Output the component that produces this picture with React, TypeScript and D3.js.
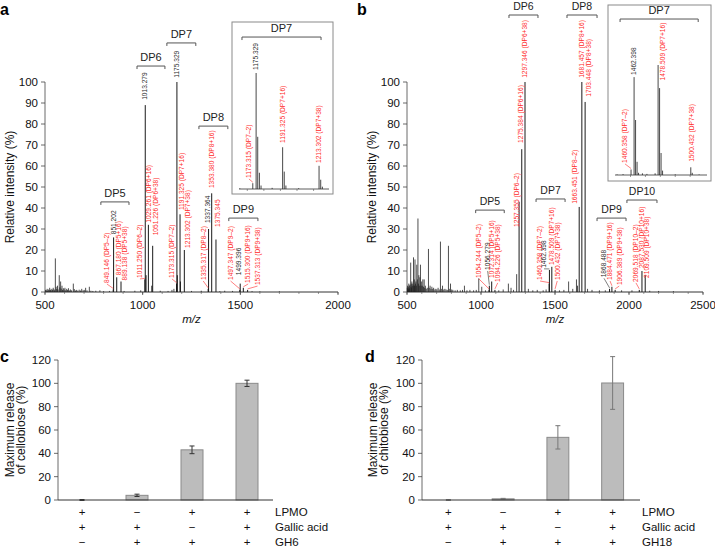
import React from "react";
import * as d3 from "d3";

const FONT = '"Liberation Sans", Arial, Helvetica, sans-serif';
const RED = "#ff2a2a";
const INK = "#2a2a2a";

type Lab = { mz: number; lx: number; lv: number; text: string; red: boolean; lead?: boolean };
type Grp = { name: string; from: number; to: number; level: number };

// ---------------- shared ----------------
const specYTicks = [0, 10, 20, 30, 40, 50, 60, 70, 80, 90, 100];

// ---------------- panel a ----------------
const aTicks = [500, 1000, 1500, 2000];
const aNoise: [number, number][] = [
  [503, 1], [507, 0.8], [511, 1.5], [514, 0.6], [517, 1.2], [521, 0.9], [524, 2], [528, 1.1], [531, 0.7],
  [535, 1.5], [538, 1], [542, 2], [546, 1.3], [549, 0.8], [553, 16], [557, 2.5], [560, 1.4], [564, 3],
  [567, 1.2], [573, 8], [576, 2.2], [580, 5], [583, 1.6], [587, 3], [590, 1], [594, 1.8], [598, 1.2],
  [602, 2], [606, 0.8], [611, 1.5], [615, 1], [620, 1.8], [625, 0.7], [630, 1.2], [636, 0.8], [645, 4],
  [650, 1.4], [656, 0.7], [662, 1], [668, 0.6], [675, 1.1], [682, 0.7], [688, 1.5], [695, 0.8], [701, 1],
  [708, 2], [715, 0.8], [727, 2.5], [735, 0.6], [745, 0.5], [760, 0.6], [781, 0.8], [800, 0.4], [830, 0.5],
  [905, 0.5], [960, 0.6], [990, 0.8], [1090, 0.6], [1130, 0.5], [1150, 1], [1160, 1.5], [1250, 0.5],
  [1300, 0.6], [1395, 0.4], [1420, 0.6], [1460, 0.5], [1560, 0.4], [1600, 0.3], [1700, 0.3],
];
const aPeaks: [number, number][] = [
  [849.146, 1.2], [851.202, 26], [867.18, 7], [889.138, 5], [1011.25, 6], [1013.279, 89], [1017.3, 8],
  [1029.261, 32], [1047, 3], [1051.226, 22], [1173.315, 4], [1175.329, 100], [1177.3, 8], [1191.325, 37],
  [1193.3, 5], [1213.302, 20], [1335.317, 1.5], [1337.364, 30], [1353.38, 47], [1375.345, 25],
  [1497.347, 1], [1499.396, 4], [1515.3, 2], [1537.313, 1],
];
const aLabels: Lab[] = [
  { mz: 849.146, lx: 817, lv: 4.3, text: "849.146 (DP5–2)", red: true, lead: true },
  { mz: 851.202, lx: 851, lv: 27.5, text: "851.202", red: false },
  { mz: 867.18, lx: 879, lv: 8, text: "867.180 (DP5+16)", red: true },
  { mz: 889.138, lx: 909, lv: 5.5, text: "889.138 (DP5+38)", red: true },
  { mz: 1011.25, lx: 986, lv: 6.7, text: "1011.250 (DP6–2)", red: true, lead: true },
  { mz: 1013.279, lx: 1011.5, lv: 91.5, text: "1013.279", red: false },
  { mz: 1029.261, lx: 1032, lv: 33, text: "1029.261 (DP6+16)", red: true },
  { mz: 1051.226, lx: 1068, lv: 27, text: "1051.226 (DP6+38)", red: true },
  { mz: 1173.315, lx: 1150, lv: 6.7, text: "1173.315 (DP7–2)", red: true, lead: true },
  { mz: 1175.329, lx: 1175, lv: 102, text: "1175.329", red: false },
  { mz: 1191.325, lx: 1199, lv: 39, text: "1191.325 (DP7+16)", red: true },
  { mz: 1213.302, lx: 1231, lv: 21, text: "1213.302 (DP7+38)", red: true },
  { mz: 1335.317, lx: 1310, lv: 5.7, text: "1335.317 (DP8–2)", red: true, lead: true },
  { mz: 1337.364, lx: 1335, lv: 32.8, text: "1337.364", red: false },
  { mz: 1353.38, lx: 1353, lv: 49.5, text: "1353.380 (DP8+16)", red: true },
  { mz: 1375.345, lx: 1383, lv: 31, text: "1375.345", red: true },
  { mz: 1497.347, lx: 1450, lv: 5.7, text: "1497.347 (DP9–2)", red: true, lead: true },
  { mz: 1499.396, lx: 1492, lv: 8, text: "1499.396", red: false },
  { mz: 1515.3, lx: 1540, lv: 4.3, text: "1515.300 (DP9+16)", red: true, lead: true },
  { mz: 1537.313, lx: 1588, lv: 3.3, text: "1537.313 (DP9+38)", red: true, lead: true },
];
const aGroups: Grp[] = [
  { name: "DP5", from: 786, to: 930, level: 42.9 },
  { name: "DP6", from: 971, to: 1114, level: 107.6 },
  { name: "DP7", from: 1124, to: 1272, level: 118.6 },
  { name: "DP8", from: 1288, to: 1436, level: 79 },
  { name: "DP9", from: 1441, to: 1590, level: 35.2 },
];
const aInsetPeaks: [number, number][] = [
  [1165.5, 0.5], [1173.315, 5], [1175.329, 100], [1176.3, 45], [1177.3, 14], [1178.3, 3], [1185, 1],
  [1191.325, 36], [1192.3, 15], [1193.3, 3], [1201, 0.7], [1213.302, 20], [1214.3, 8], [1215.3, 2],
];
const aInsetLabels: Lab[] = [
  { mz: 1175.329, lx: 1175.3, lv: 102.6, text: "1175.329", red: false },
  { mz: 1173.315, lx: 1171, lv: 9.5, text: "1173.315 (DP7–2)", red: true, lead: true },
  { mz: 1191.325, lx: 1191.5, lv: 39.7, text: "1191.325 (DP7+16)", red: true },
  { mz: 1213.302, lx: 1213.25, lv: 22.4, text: "1213.302 (DP7+38)", red: true },
];
const aInsetGroup: Grp = { name: "DP7", from: 1166.8, to: 1214.5, level: 131 };
const aInsetTicks = [1170, 1180, 1190, 1200, 1210];

// ---------------- panel b ----------------
const bTicks = [500, 1000, 1500, 2000, 2500];
const bNoise: [number, number][] = [
  [502, 2], [504, 3], [506, 1.5], [508, 2.5], [510, 1.2], [512, 4], [514, 2], [516, 3], [518, 1.5],
  [520, 3.5], [525, 14], [527, 2.5], [529, 4], [531, 2], [533, 5], [536, 3], [539, 4], [544, 16.5],
  [546, 3], [549, 6], [551, 3], [554, 15.5], [557, 4], [560, 5], [563, 3], [566, 13], [570, 6],
  [574, 35], [577, 4], [580, 8], [583, 3], [587, 7], [591, 13], [595, 3], [599, 5], [603, 3], [607, 6],
  [611, 2.5], [616, 6], [620, 2], [624, 3], [630, 1.5], [637, 2], [645, 20.5], [650, 2], [656, 3],
  [662, 1.5], [668, 2.5], [674, 1.5], [680, 2], [688, 1.2], [695, 1.5], [702, 1.2], [710, 2], [718, 1.2],
  [726, 24], [732, 1.5], [740, 3], [748, 1.2], [756, 1.5], [764, 1.2], [772, 1], [780, 22], [786, 1.5],
  [794, 4], [802, 1.2], [810, 1], [825, 0.8], [840, 1], [860, 0.8], [875, 1], [888, 3], [905, 0.8],
  [925, 1], [950, 0.8], [968, 1], [985, 6.5], [1005, 2.5], [1030, 0.8], [1120, 0.8], [1150, 1.2],
  [1185, 4], [1203, 2], [1220, 1], [1241, 8.5], [1320, 1.5], [1350, 0.8], [1380, 1], [1420, 0.8],
  [1440, 1.2], [1530, 0.8], [1560, 1], [1592, 5], [1620, 1.5], [1645, 6], [1652, 3], [1720, 1.5],
  [1750, 1], [1800, 0.8], [1840, 0.8], [1950, 0.8], [2020, 0.8], [2140, 0.6], [2200, 0.5], [2300, 0.4],
];
const bPeaks: [number, number][] = [
  [1054.244, 1], [1056.279, 3], [1072.314, 5], [1094.226, 1], [1257.355, 43], [1275.384, 68],
  [1297.346, 100], [1460.358, 4], [1462.398, 10.5], [1478.509, 12], [1500.432, 1], [1663.451, 40.5],
  [1681.457, 100], [1703.448, 90.5], [1868.488, 1.5], [1884.471, 2.5], [1906.389, 1], [2069.518, 1],
  [2087.53, 10], [2109.509, 8],
];
const bLabels: Lab[] = [
  { mz: 1054.244, lx: 986, lv: 6.7, text: "1054.244 (DP5–2)", red: true, lead: true },
  { mz: 1056.279, lx: 1045, lv: 10.5, text: "1056.279", red: false, lead: true },
  { mz: 1072.314, lx: 1072, lv: 6.7, text: "1072.314 (DP5+16)", red: true },
  { mz: 1094.226, lx: 1113, lv: 4.8, text: "1094.226 (DP5+38)", red: true, lead: true },
  { mz: 1257.355, lx: 1241, lv: 31, text: "1257.355 (DP6–2)", red: true },
  { mz: 1275.384, lx: 1268, lv: 71, text: "1275.384 (DP6+16)", red: true },
  { mz: 1297.346, lx: 1297, lv: 102, text: "1297.346 (DP6+38)", red: true },
  { mz: 1460.358, lx: 1399, lv: 5.7, text: "1460.358 (DP7–2)", red: true, lead: true },
  { mz: 1462.398, lx: 1426, lv: 11.5, text: "1462.398", red: false, lead: true },
  { mz: 1478.509, lx: 1478, lv: 12.8, text: "1478.509 (DP7+16)", red: true },
  { mz: 1500.432, lx: 1515, lv: 5.7, text: "1500.432 (DP7+38)", red: true, lead: true },
  { mz: 1663.451, lx: 1635, lv: 42, text: "1663.451 (DP8–2)", red: true },
  { mz: 1681.457, lx: 1680, lv: 102, text: "1681.457 (DP8+16)", red: true },
  { mz: 1703.448, lx: 1725, lv: 93, text: "1703.448 (DP8+38)", red: true },
  { mz: 1868.488, lx: 1831, lv: 7, text: "1868.488", red: false, lead: true },
  { mz: 1884.471, lx: 1872, lv: 5.7, text: "1884.471 (DP9+16)", red: true, lead: true },
  { mz: 1906.389, lx: 1934, lv: 3.3, text: "1906.389 (DP9+38)", red: true, lead: true },
  { mz: 2069.518, lx: 2047, lv: 4.8, text: "2069.518 (DP10–2)", red: true, lead: true },
  { mz: 2087.53, lx: 2086, lv: 11.4, text: "2087.530 (DP10+16)", red: true },
  { mz: 2109.509, lx: 2120, lv: 6.7, text: "2109.509 (DP10+38)", red: true },
];
const bGroups: Grp[] = [
  { name: "DP5", from: 964, to: 1157, level: 39 },
  { name: "DP6", from: 1189, to: 1385, level: 131.9 },
  { name: "DP7", from: 1372, to: 1568, level: 44.3 },
  { name: "DP8", from: 1581, to: 1784, level: 131.9 },
  { name: "DP9", from: 1784, to: 1980, level: 35.2 },
  { name: "DP10", from: 1986, to: 2189, level: 43.8 },
];
const bInsetPeaks: [number, number][] = [
  [1451, 0.5], [1455, 0.8], [1460.358, 5], [1462.398, 89], [1463.4, 50], [1464.4, 12], [1465.4, 2],
  [1468, 1.5], [1471, 1], [1476.5, 1.5], [1478.509, 100], [1479.5, 79], [1480.5, 20], [1481.5, 4],
  [1490, 0.6], [1500.432, 7], [1501.4, 2], [1506, 0.5],
];
const bInsetLabels: Lab[] = [
  { mz: 1462.398, lx: 1462.4, lv: 91, text: "1462.398", red: false },
  { mz: 1478.509, lx: 1481.3, lv: 86, text: "1478.509 (DP7+16)", red: true },
  { mz: 1460.358, lx: 1456.3, lv: 11, text: "1460.358 (DP7–2)", red: true, lead: true },
  { mz: 1500.432, lx: 1501.2, lv: 12, text: "1500.432 (DP7+38)", red: true },
];
const bInsetGroup: Grp = { name: "DP7", from: 1453, to: 1505.4, level: 141.8 };
const bInsetTicks = [1460, 1470, 1480, 1490, 1500];

// ---------------- panels c, d ----------------
const conditions = ["1", "2", "3", "4"];
const cValues = [0, 4, 43, 100];
const cErrors = [0.4, 1, 3.3, 2.7];
const dValues = [0, 1, 53.7, 100.3];
const dErrors = [0.3, 0.4, 10, 22.6];
const cRows = ["LPMO", "Gallic acid", "GH6"];
const dRows = ["LPMO", "Gallic acid", "GH18"];
const signRows = [
  ["+", "−", "+", "+"],
  ["+", "+", "−", "+"],
  ["−", "+", "+", "+"],
];
const barYTicks = [0, 20, 40, 60, 80, 100, 120];

// ------------------------------------------------------------
function RotLabel({ x, y, text, red, size = 6.6 }: { x: number; y: number; text: string; red: boolean; size?: number }) {
  return (
    <text
      transform={`translate(${x},${y}) rotate(-90)`}
      dy="0.35em"
      fontSize={size}
      fill={red ? RED : INK}
      fontFamily={FONT}
    >
      {text}
    </text>
  );
}

function Labels({ labels, x, y, peaks }: { labels: Lab[]; x: (v: number) => number; y: (v: number) => number; peaks: [number, number][] }) {
  return (
    <g>
      {labels.map((l, i) => {
        const pk = peaks.find((p) => p[0] === l.mz);
        const top = pk ? y(pk[1]) : y(0);
        return (
          <g key={i}>
            {l.lead && (
              <line
                x1={x(l.mz)}
                y1={top - 1}
                x2={x(l.lx)}
                y2={y(l.lv) + 1}
                stroke={l.red ? RED : INK}
                strokeWidth={0.6}
              />
            )}
            <RotLabel x={x(l.lx)} y={y(l.lv)} text={l.text} red={l.red} />
          </g>
        );
      })}
    </g>
  );
}

function Bracket({ g, x, y, size }: { g: Grp; x: (v: number) => number; y: (v: number) => number; size: number }) {
  const yy = y(g.level);
  const x1 = x(g.from);
  const x2 = x(g.to);
  return (
    <g>
      <path d={`M${x1},${yy + 3}V${yy}H${x2}V${yy + 3}`} fill="none" stroke="#555" strokeWidth={1} />
      <text x={(x1 + x2) / 2} y={yy - 5} textAnchor="middle" fontSize={size} fontFamily={FONT} fill="#222">
        {g.name}
      </text>
    </g>
  );
}

function Sticks({ peaks, x, y, color = "#1e1e1e", width = 0.9 }: { peaks: [number, number][]; x: (v: number) => number; y: (v: number) => number; color?: string; width?: number }) {
  return (
    <g>
      {peaks.map((p, i) => (
        <line key={i} x1={x(p[0])} x2={x(p[0])} y1={y(0)} y2={y(p[1])} stroke={color} strokeWidth={width} />
      ))}
    </g>
  );
}

type InsetSpec = {
  box: [number, number, number, number];
  xr: [number, number];
  domain: [number, number];
  yr: [number, number];
  peaks: [number, number][];
  labels: Lab[];
  group: Grp;
  ticks: number[];
};

function Inset({ s }: { s: InsetSpec }) {
  const x = d3.scaleLinear().domain(s.domain).range(s.xr);
  const y = d3.scaleLinear().domain([0, 100]).range(s.yr);
  const [bx0, by0, bx1, by1] = s.box;
  return (
    <g>
      <rect x={bx0} y={by0} width={bx1 - bx0} height={by1 - by0} fill="#fff" stroke="#8a8a8a" strokeWidth={1} />
      <line x1={s.xr[0]} x2={s.xr[1]} y1={y(0)} y2={y(0)} stroke="#333" strokeWidth={0.8} />
      {s.ticks.map((t) => (
        <line key={t} x1={x(t)} x2={x(t)} y1={y(0)} y2={y(0) + 2} stroke="#555" strokeWidth={0.6} />
      ))}
      <Sticks peaks={s.peaks} x={x} y={y} color="#333" width={0.9} />
      <Labels labels={s.labels} x={x} y={y} peaks={s.peaks} />
      <Bracket g={s.group} x={x} y={y} size={11} />
    </g>
  );
}

type SpecProps = {
  letter: string;
  letterX: number;
  x0: number;
  x1: number;
  domain: [number, number];
  ticks: number[];
  noise: [number, number][];
  peaks: [number, number][];
  labels: Lab[];
  groups: Grp[];
  groupSize: number;
  ylabelX: number;
  inset: InsetSpec;
};

function Spectrum(p: SpecProps) {
  const x = d3.scaleLinear().domain(p.domain).range([p.x0, p.x1]);
  const y = d3.scaleLinear().domain([0, 100]).range([292, 82]);
  const minor = d3.range(p.domain[0], p.domain[1] + 1, 100);
  return (
    <g fontFamily={FONT}>
      <text x={p.letterX} y={15} fontSize={16} fontWeight="bold" fill="#000">
        {p.letter}
      </text>
      {/* y axis */}
      <line x1={p.x0} x2={p.x0} y1={y(0)} y2={y(100)} stroke="#444" strokeWidth={0.8} />
      {specYTicks.map((t) => (
        <g key={t}>
          <line x1={p.x0 - 4} x2={p.x0} y1={y(t)} y2={y(t)} stroke="#444" strokeWidth={0.8} />
          <text x={p.x0 - 7} y={y(t)} dy="0.35em" textAnchor="end" fontSize={11.5} fill="#111">
            {t}
          </text>
        </g>
      ))}
      <text
        transform={`translate(${p.ylabelX},${(y(0) + y(100)) / 2}) rotate(-90)`}
        textAnchor="middle"
        dy="0.35em"
        fontSize={12}
        fill="#111"
      >
        Relative intensity (%)
      </text>
      {/* x axis */}
      <line x1={p.x0} x2={p.x1} y1={y(0)} y2={y(0)} stroke="#333" strokeWidth={1} />
      {minor.map((t) => (
        <line key={t} x1={x(t)} x2={x(t)} y1={y(0)} y2={y(0) + 2} stroke="#555" strokeWidth={0.6} />
      ))}
      {p.ticks.map((t) => (
        <g key={t}>
          <line x1={x(t)} x2={x(t)} y1={y(0)} y2={y(0) + 3} stroke="#444" strokeWidth={0.8} />
          <text x={x(t)} y={309} textAnchor="middle" fontSize={11.5} fill="#111">
            {t}
          </text>
        </g>
      ))}
      <text x={(p.x0 + p.x1) / 2} y={323} textAnchor="middle" fontSize={11.5} fontStyle="italic" fill="#111">
        m/z
      </text>
      <Sticks peaks={p.noise} x={x} y={y} color="#222" width={0.8} />
      <Sticks peaks={p.peaks} x={x} y={y} color="#1a1a1a" width={1} />
      <Labels labels={p.labels} x={x} y={y} peaks={p.peaks} />
      {p.groups.map((g) => (
        <Bracket key={g.name} g={g} x={x} y={y} size={p.groupSize} />
      ))}
      <Inset s={p.inset} />
    </g>
  );
}

type BarProps = {
  letter: string;
  letterX: number;
  x0: number;
  x1: number;
  band: [number, number];
  values: number[];
  errors: number[];
  rows: string[];
  ylines: string[];
  ylabelX: [number, number];
  errColor: string;
};

function BarPanel(p: BarProps) {
  const y = d3.scaleLinear().domain([0, 120]).range([500, 360]);
  const xb = d3.scaleBand<string>().domain(conditions).range(p.band).paddingInner(0.6).paddingOuter(0.3);
  const rowY = [515.5, 531, 545.5];
  return (
    <g fontFamily={FONT}>
      <text x={p.letterX} y={362} fontSize={16} fontWeight="bold" fill="#000">
        {p.letter}
      </text>
      {p.ylines.map((t, i) => (
        <text
          key={i}
          transform={`translate(${p.ylabelX[i]},430) rotate(-90)`}
          textAnchor="middle"
          dy="0.35em"
          fontSize={12}
          fill="#111"
        >
          {t}
        </text>
      ))}
      <line x1={p.x0} x2={p.x0} y1={y(0)} y2={y(120)} stroke="#444" strokeWidth={0.8} />
      {barYTicks.map((t) => (
        <g key={t}>
          <line x1={p.x0 - 4} x2={p.x0} y1={y(t)} y2={y(t)} stroke="#444" strokeWidth={0.8} />
          <text x={p.x0 - 7} y={y(t)} dy="0.35em" textAnchor="end" fontSize={11.5} fill="#111">
            {t}
          </text>
        </g>
      ))}
      {conditions.map((c, i) => {
        const v = p.values[i];
        const e = p.errors[i];
        const cx = (xb(c) as number) + xb.bandwidth() / 2;
        return (
          <g key={c}>
            {v > 0 && (
              <rect
                x={xb(c)}
                y={y(v)}
                width={xb.bandwidth()}
                height={y(0) - y(v)}
                fill="#bcbcbc"
                stroke="#8a8a8a"
                strokeWidth={1}
              />
            )}
            <line x1={cx} x2={cx} y1={y(v - e)} y2={y(v + e)} stroke={p.errColor} strokeWidth={1} />
            <line x1={cx - 2.5} x2={cx + 2.5} y1={y(v + e)} y2={y(v + e)} stroke={p.errColor} strokeWidth={1} />
            <line x1={cx - 2.5} x2={cx + 2.5} y1={y(v - e)} y2={y(v - e)} stroke={p.errColor} strokeWidth={1} />
            {signRows.map((r, j) => (
              <text key={j} x={cx} y={rowY[j]} textAnchor="middle" fontSize={11.5} fill="#111">
                {r[i]}
              </text>
            ))}
          </g>
        );
      })}
      <line x1={p.x0} x2={p.x1} y1={y(0)} y2={y(0)} stroke="#333" strokeWidth={1} />
      {p.rows.map((r, j) => (
        <text key={r} x={p.x1 + 2} y={rowY[j]} fontSize={11.5} fill="#111">
          {r}
        </text>
      ))}
    </g>
  );
}

export default function App() {
  return (
    <svg width={715} height={546} style={{ display: "block", position: "absolute", left: 0, top: 0, background: "#fff" }}>
      <rect width={715} height={546} fill="#fff" />
      <Spectrum
        letter="a"
        letterX={0}
        x0={45}
        x1={338}
        domain={[500, 2000]}
        ticks={aTicks}
        noise={aNoise}
        peaks={aPeaks}
        labels={aLabels}
        groups={aGroups}
        groupSize={11}
        ylabelX={10}
        inset={{
          box: [232, 22, 333, 194],
          xr: [239, 329],
          domain: [1165, 1219.3],
          yr: [189, 73],
          peaks: aInsetPeaks,
          labels: aInsetLabels,
          group: aInsetGroup,
          ticks: aInsetTicks,
        }}
      />
      <Spectrum
        letter="b"
        letterX={357}
        x0={407}
        x1={703}
        domain={[500, 2500]}
        ticks={bTicks}
        noise={bNoise}
        peaks={bPeaks}
        labels={bLabels}
        groups={bGroups}
        groupSize={10.5}
        ylabelX={372}
        inset={{
          box: [608, 5, 711, 181],
          xr: [615, 707],
          domain: [1449.6, 1511.3],
          yr: [175, 65],
          peaks: bInsetPeaks,
          labels: bInsetLabels,
          group: bInsetGroup,
          ticks: bInsetTicks,
        }}
      />
      <BarPanel
        letter="c"
        letterX={0}
        x0={58}
        x1={273}
        band={[54.5, 274.5]}
        values={cValues}
        errors={cErrors}
        rows={cRows}
        ylines={["Maximum release", "of cellobiose (%)"]}
        ylabelX={[10, 21]}
        errColor="#333"
      />
      <BarPanel
        letter="d"
        letterX={365}
        x0={422}
        x1={640}
        band={[421, 640]}
        values={dValues}
        errors={dErrors}
        rows={dRows}
        ylines={["Maximum release", "of chitobiose (%)"]}
        ylabelX={[373, 384]}
        errColor="#777"
      />
    </svg>
  );
}
